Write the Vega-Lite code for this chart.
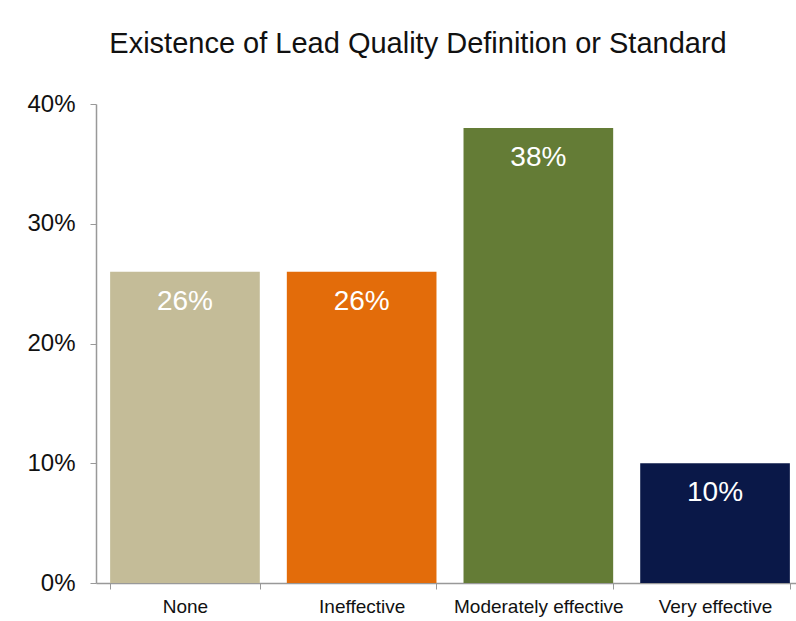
{
  "$schema": "https://vega.github.io/schema/vega-lite/v6.json",
  "autosize": "none",
  "padding": {"left": 96, "top": 104, "right": 0, "bottom": 38},
  "width": 708,
  "height": 479,
  "background": "white",
  "title": {
    "text": "Existence of Lead Quality Definition or Standard",
    "font": "Liberation Sans",
    "fontSize": 29,
    "fontWeight": "normal",
    "color": "#111111",
    "anchor": "middle",
    "baseline": "alphabetic",
    "offset": 10,
    "dx": -32
  },
  "config": {
    "view": {"stroke": null},
    "font": "Liberation Sans"
  },
  "data": {
    "values": [
      {"category": "None", "value": 0.26},
      {"category": "Ineffective", "value": 0.26},
      {"category": "Moderately effective", "value": 0.38},
      {"category": "Very effective", "value": 0.10}
    ]
  },
  "encoding": {
    "x": {
      "field": "category",
      "type": "nominal",
      "sort": null,
      "scale": {"paddingInner": 0.153, "paddingOuter": 0.08},
      "axis": {
        "title": null,
        "labelAngle": 0,
        "labelFontSize": 19,
        "labelColor": "#111111",
        "labelPadding": 8,
        "domainColor": "#999999",
        "domainWidth": 1.5,
        "tickColor": "#999999",
        "tickSize": 6,
        "tickBand": "extent",
        "grid": false
      }
    },
    "y": {
      "field": "value",
      "type": "quantitative",
      "scale": {"domain": [0, 0.4], "nice": false},
      "axis": {
        "title": null,
        "format": ".0%",
        "values": [0, 0.1, 0.2, 0.3, 0.4],
        "labelFontSize": 24,
        "labelColor": "#111111",
        "labelPadding": 15,
        "domainColor": "#999999",
        "domainWidth": 1.5,
        "tickColor": "#999999",
        "tickSize": 6,
        "grid": false
      }
    }
  },
  "layer": [
    {
      "mark": {"type": "bar"},
      "encoding": {
        "color": {
          "field": "category",
          "type": "nominal",
          "sort": null,
          "scale": {
            "domain": ["None", "Ineffective", "Moderately effective", "Very effective"],
            "range": ["#C4BC98", "#E36C0A", "#647C36", "#0A1848"]
          },
          "legend": null
        }
      }
    },
    {
      "mark": {"type": "text", "color": "white", "fontSize": 28, "baseline": "top", "dy": 16},
      "encoding": {
        "text": {"field": "value", "type": "quantitative", "format": ".0%"}
      }
    }
  ]
}
